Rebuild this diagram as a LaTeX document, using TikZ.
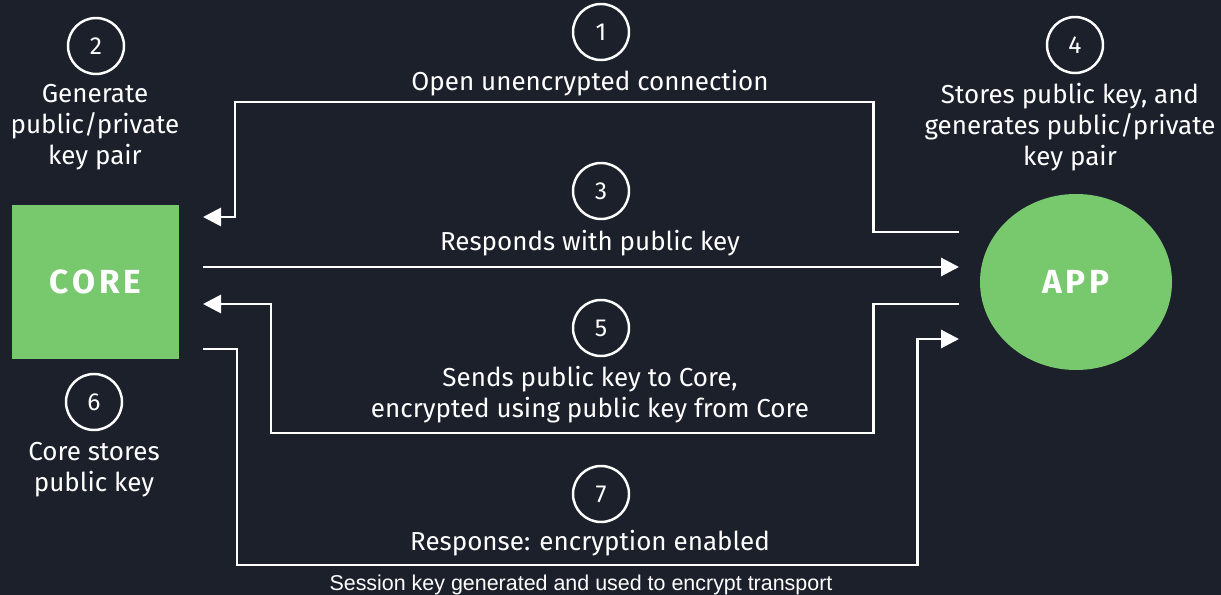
\documentclass[tikz,border=0pt]{standalone}
\usepackage{fontspec}
\setmainfont{Fira Sans}
\newfontfamily\captionfont{Liberation Sans}
\usepackage{tikz}
\usetikzlibrary{arrows.meta,positioning,shapes.geometric}
\definecolor{bgdark}{RGB}{28,32,43}
\definecolor{boxgreen}{RGB}{120,200,110}
\tikzset{
	flow/.style={draw=white,line width=1.7pt,-{Triangle[length=0.36cm,width=0.36cm]}},
	stepnum/.style={circle,draw=white,line width=1.4pt,minimum size=1.12cm,inner sep=0pt,text=white,font=\fontsize{14}{16}\selectfont},
	label text/.style={text=white,align=center,font=\fontsize{14.8}{17.6}\selectfont},
	party/.style={fill=boxgreen,text=white,font=\fontsize{19}{22}\selectfont\bfseries\addfontfeatures{LetterSpace=12}}
}

\begin{document}
\begin{tikzpicture}
\useasboundingbox[fill=bgdark] (0,0) rectangle (24.42,-11.9);
% the two parties
\node[party,rectangle,minimum width=3.34cm,minimum height=3.08cm] (core) at (1.91,-5.64) {CORE};
\node[party,ellipse,minimum width=3.84cm,minimum height=3.52cm,inner sep=0pt] (app) at (21.52,-5.64) {APP};
% numbered steps
\node[stepnum] (s1) at (12.02,-0.64) {1};
\node[stepnum] (s2) at (1.92,-0.92) {2};
\node[stepnum] (s3) at (12.02,-3.82) {3};
\node[stepnum] (s4) at (21.5,-0.9) {4};
\node[stepnum] (s5) at (12.02,-6.56) {5};
\node[stepnum] (s6) at (1.88,-8.04) {6};
\node[stepnum] (s7) at (12.02,-9.88) {7};
% texts
\node[label text] (t1) at (11.8,-1.66) {Open unencrypted connection};
\node[label text] (t2) at (1.9,-2.54) {Generate\\public/private\\key pair};
\node[label text] (t3) at (11.8,-4.86) {Responds with public key};
\node[label text] (t4) at (21.4,-2.54) {Stores public key, and\\generates public/private\\key pair};
\node[label text] (t5) at (11.8,-7.9) {Sends public key to Core,\\encrypted using public key from Core};
\node[label text] (t6) at (1.88,-9.4) {Core stores\\public key};
\node[label text] (t7) at (11.8,-10.86) {Response: encryption enabled};
\node[text=white,font=\captionfont\fontsize{12.2}{14}\selectfont] (cap) at (11.62,-11.7) {Session key generated and used to encrypt transport};
% ends of the connectors
\coordinate (app1) at (19.18,-4.64);
\coordinate (core1) at (4.06,-4.34);
\coordinate (core3) at (4.06,-5.34);
\coordinate (app3) at (19.18,-5.34);
\coordinate (app5) at (19.18,-6.08);
\coordinate (core5) at (4.06,-6.08);
\coordinate (core7) at (4.06,-6.98);
\coordinate (app7) at (19.18,-6.78);
% messages
\draw[flow] (app1) -| (17.46,-2.04) -| (4.7,-4.34) -- (core1);
\draw[flow] (core3) -- (app3);
\draw[flow] (app5) -| (17.46,-8.66) -| (5.42,-6.08) -- (core5);
\draw[flow] (core7) -| (4.74,-11.3) -| (18.34,-6.78) -- (app7);
\end{tikzpicture}
\end{document}
